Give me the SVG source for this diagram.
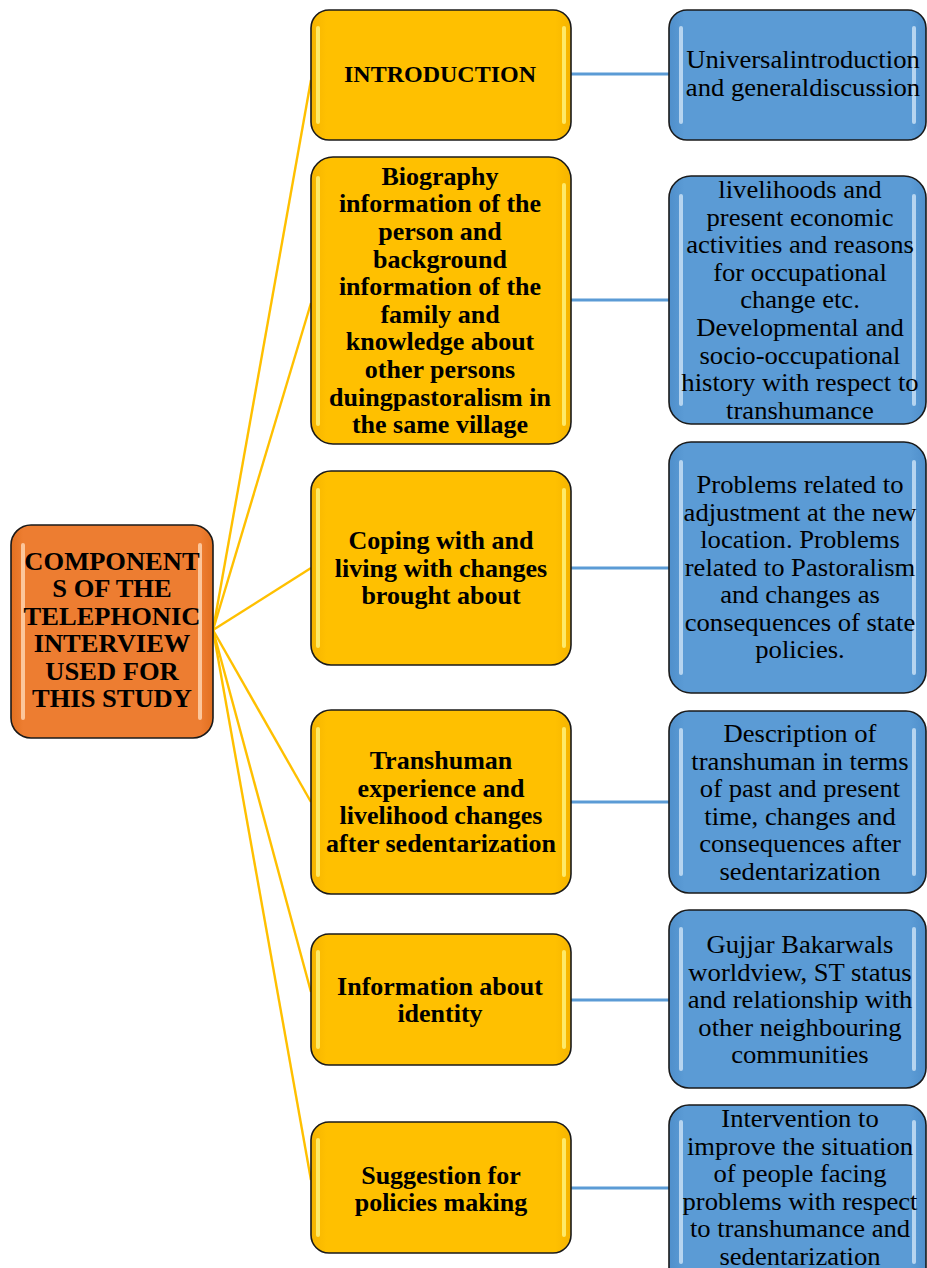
<svg xmlns="http://www.w3.org/2000/svg" width="927" height="1268" viewBox="0 0 927 1268">
<defs>
<linearGradient id="gy" x1="0" y1="0" x2="1" y2="0">
<stop offset="0" stop-color="#F5B400"/><stop offset="0.06" stop-color="#FFC000"/><stop offset="0.94" stop-color="#FFC000"/><stop offset="1" stop-color="#F5B400"/>
</linearGradient>
<linearGradient id="gb" x1="0" y1="0" x2="1" y2="0">
<stop offset="0" stop-color="#4F8FCB"/><stop offset="0.06" stop-color="#5B9BD5"/><stop offset="0.94" stop-color="#5B9BD5"/><stop offset="1" stop-color="#4F8FCB"/>
</linearGradient>
<linearGradient id="go" x1="0" y1="0" x2="1" y2="0">
<stop offset="0" stop-color="#E27020"/><stop offset="0.06" stop-color="#ED7D31"/><stop offset="0.94" stop-color="#ED7D31"/><stop offset="1" stop-color="#E27020"/>
</linearGradient>
</defs>
<style>
.box{stroke:#1a1a1a;stroke-width:1.6}
.y{fill:url(#gy)}
.b{fill:url(#gb)}
.o{fill:url(#go)}
.hy{stroke:#FFF27A;stroke-width:4;stroke-linecap:round;opacity:0.85}
.hb{stroke:#D6E9FA;stroke-width:4;stroke-linecap:round;opacity:0.75}
.ho{stroke:#FFD3AE;stroke-width:4;stroke-linecap:round;opacity:0.85}
.tb{font-family:"Liberation Serif","Times New Roman",serif;font-weight:bold;font-size:26px;fill:#000;text-anchor:middle}
.tr{font-family:"Liberation Serif","Times New Roman",serif;font-size:25px;fill:#000;text-anchor:middle}
.cy{stroke:#FFC000;stroke-width:2.4;fill:none}
.cb{stroke:#5B9BD5;stroke-width:3;fill:none}
</style>
<rect width="927" height="1268" fill="#fff"/>
<g id="connectors">
<line class="cy" x1="213" y1="630" x2="311" y2="80"/>
<line class="cy" x1="213" y1="630" x2="311" y2="303"/>
<line class="cy" x1="213" y1="630" x2="311" y2="568"/>
<line class="cy" x1="213" y1="630" x2="311" y2="802"/>
<line class="cy" x1="213" y1="630" x2="311" y2="992"/>
<line class="cy" x1="213" y1="630" x2="311" y2="1180"/>
<line class="cb" x1="571" y1="74" x2="669" y2="74"/>
<line class="cb" x1="571" y1="300" x2="669" y2="300"/>
<line class="cb" x1="571" y1="568" x2="669" y2="568"/>
<line class="cb" x1="571" y1="802" x2="669" y2="802"/>
<line class="cb" x1="571" y1="1000" x2="669" y2="1000"/>
<line class="cb" x1="571" y1="1188" x2="669" y2="1188"/>
</g>
<g id="root">
<rect class="box o" x="11" y="525" width="202" height="213" rx="20"/>
<line class="ho" x1="23" y1="545" x2="23" y2="718"/><line class="ho" x1="200" y1="545" x2="200" y2="718"/>
<text class="tb" transform="translate(112 0) scale(1.02 1) translate(-112 0)"><tspan x="112" y="570">COMPONENT</tspan><tspan x="112" y="597">S OF THE</tspan><tspan x="112" y="625">TELEPHONIC</tspan><tspan x="112" y="652">INTERVIEW</tspan><tspan x="112" y="680">USED FOR</tspan><tspan x="112" y="707">THIS STUDY</tspan></text>
</g>
<g id="n1">
<rect class="box y" x="311" y="10" width="260" height="130" rx="18"/>
<line class="hy" x1="318" y1="28" x2="318" y2="122"/><line class="hy" x1="564" y1="28" x2="564" y2="122"/>
<text class="tb" style="font-size:24px"><tspan x="440" y="82">INTRODUCTION</tspan></text>
</g>
<g id="d1">
<rect class="box b" x="669" y="10" width="257" height="130" rx="18"/>
<line class="hb" x1="681" y1="28" x2="681" y2="122"/><line class="hb" x1="914" y1="28" x2="914" y2="122"/>
<text class="tr" transform="translate(803 0) scale(1.065 1) translate(-803 0)"><tspan x="803" y="68">Universalintroduction</tspan><tspan x="803" y="96">and generaldiscussion</tspan></text>
</g>
<g id="n2">
<rect class="box y" x="311" y="157" width="260" height="287" rx="22"/>
<line class="hy" x1="318" y1="178" x2="318" y2="424"/><line class="hy" x1="564" y1="185" x2="564" y2="424"/>
<text class="tb"><tspan x="440" y="185">Biography</tspan><tspan x="440" y="212">information of the</tspan><tspan x="440" y="240">person and</tspan><tspan x="440" y="268">background</tspan><tspan x="440" y="295">information of the</tspan><tspan x="440" y="323">family and</tspan><tspan x="440" y="350">knowledge about</tspan><tspan x="440" y="378">other persons</tspan><tspan x="440" y="406">duingpastoralism in</tspan><tspan x="440" y="433">the same village</tspan></text>
</g>
<g id="d2">
<rect class="box b" x="669" y="176" width="257" height="248" rx="22"/>
<line class="hb" x1="681" y1="196" x2="681" y2="404"/><line class="hb" x1="914" y1="196" x2="914" y2="404"/>
<text class="tr" transform="translate(800 0) scale(1.065 1) translate(-800 0)"><tspan x="800" y="198">livelihoods and</tspan><tspan x="800" y="226">present economic</tspan><tspan x="800" y="253">activities and reasons</tspan><tspan x="800" y="281">for occupational</tspan><tspan x="800" y="308">change etc.</tspan><tspan x="800" y="336">Developmental and</tspan><tspan x="800" y="364">socio-occupational</tspan><tspan x="800" y="391">history with respect to</tspan><tspan x="800" y="419">transhumance</tspan></text>
</g>
<g id="n3">
<rect class="box y" x="311" y="471" width="260" height="194" rx="20"/>
<line class="hy" x1="318" y1="490" x2="318" y2="646"/><line class="hy" x1="564" y1="490" x2="564" y2="646"/>
<text class="tb"><tspan x="441" y="549">Coping with and</tspan><tspan x="441" y="577">living with changes</tspan><tspan x="441" y="604">brought about</tspan></text>
</g>
<g id="d3">
<rect class="box b" x="669" y="442" width="257" height="251" rx="22"/>
<line class="hb" x1="681" y1="462" x2="681" y2="673"/><line class="hb" x1="914" y1="462" x2="914" y2="673"/>
<text class="tr" transform="translate(800 0) scale(1.065 1) translate(-800 0)"><tspan x="800" y="493">Problems related to</tspan><tspan x="800" y="521">adjustment at the new</tspan><tspan x="800" y="548">location. Problems</tspan><tspan x="800" y="576">related to Pastoralism</tspan><tspan x="800" y="603">and changes as</tspan><tspan x="800" y="631">consequences of state</tspan><tspan x="800" y="658">policies.</tspan></text>
</g>
<g id="n4">
<rect class="box y" x="311" y="710" width="260" height="184" rx="20"/>
<line class="hy" x1="318" y1="729" x2="318" y2="875"/><line class="hy" x1="564" y1="729" x2="564" y2="875"/>
<text class="tb"><tspan x="441" y="769">Transhuman</tspan><tspan x="441" y="797">experience and</tspan><tspan x="441" y="824">livelihood changes</tspan><tspan x="441" y="852">after sedentarization</tspan></text>
</g>
<g id="d4">
<rect class="box b" x="669" y="711" width="257" height="182" rx="20"/>
<line class="hb" x1="681" y1="730" x2="681" y2="874"/><line class="hb" x1="914" y1="730" x2="914" y2="874"/>
<text class="tr" transform="translate(800 0) scale(1.065 1) translate(-800 0)"><tspan x="800" y="742">Description of</tspan><tspan x="800" y="770">transhuman in terms</tspan><tspan x="800" y="797">of past and present</tspan><tspan x="800" y="825">time, changes and</tspan><tspan x="800" y="852">consequences after</tspan><tspan x="800" y="880">sedentarization</tspan></text>
</g>
<g id="n5">
<rect class="box y" x="311" y="934" width="260" height="131" rx="18"/>
<line class="hy" x1="318" y1="952" x2="318" y2="1047"/><line class="hy" x1="564" y1="952" x2="564" y2="1047"/>
<text class="tb"><tspan x="440" y="995">Information about</tspan><tspan x="440" y="1022">identity</tspan></text>
</g>
<g id="d5">
<rect class="box b" x="669" y="910" width="257" height="178" rx="20"/>
<line class="hb" x1="681" y1="929" x2="681" y2="1069"/><line class="hb" x1="914" y1="929" x2="914" y2="1069"/>
<text class="tr" transform="translate(800 0) scale(1.065 1) translate(-800 0)"><tspan x="800" y="953">Gujjar Bakarwals</tspan><tspan x="800" y="981">worldview, ST status</tspan><tspan x="800" y="1008">and relationship with</tspan><tspan x="800" y="1036">other neighbouring</tspan><tspan x="800" y="1063">communities</tspan></text>
</g>
<g id="n6">
<rect class="box y" x="311" y="1122" width="260" height="131" rx="18"/>
<line class="hy" x1="318" y1="1140" x2="318" y2="1235"/><line class="hy" x1="564" y1="1140" x2="564" y2="1235"/>
<text class="tb"><tspan x="441" y="1184">Suggestion for</tspan><tspan x="441" y="1211">policies making</tspan></text>
</g>
<g id="d6">
<rect class="box b" x="669" y="1105" width="257" height="190" rx="20"/>
<line class="hb" x1="681" y1="1122" x2="681" y2="1262"/><line class="hb" x1="914" y1="1122" x2="914" y2="1262"/>
<text class="tr" transform="translate(800 0) scale(1.065 1) translate(-800 0)"><tspan x="800" y="1127">Intervention to</tspan><tspan x="800" y="1155">improve the situation</tspan><tspan x="800" y="1182">of people facing</tspan><tspan x="800" y="1210">problems with respect</tspan><tspan x="800" y="1237">to transhumance and</tspan><tspan x="800" y="1265">sedentarization</tspan></text>
</g>
</svg>
